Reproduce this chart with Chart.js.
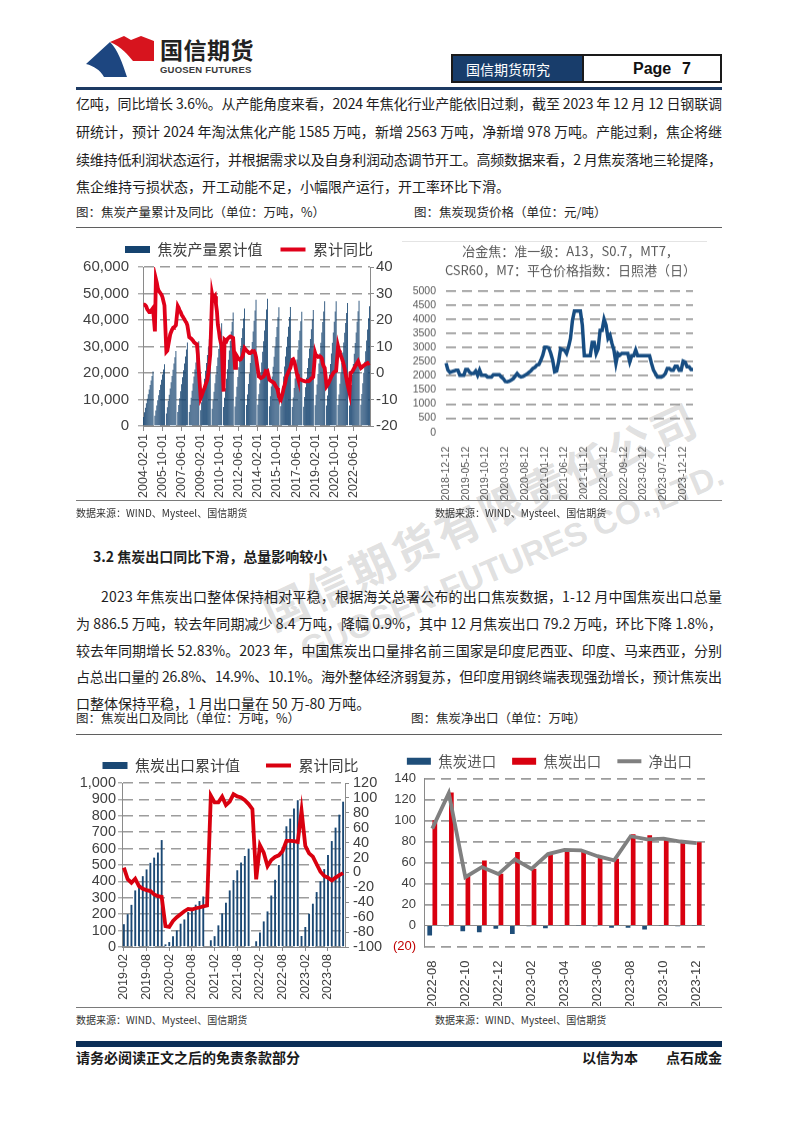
<!DOCTYPE html>
<html lang="zh-CN">
<head>
<meta charset="utf-8">
<title>焦炭</title>
<script src="https://cdn.jsdelivr.net/npm/chart.js@4.4.1/dist/chart.umd.min.js"></script>
<style>
  html, body { margin:0; padding:0; background:#fff; }
  body { width:802px; height:1133px; position:relative; overflow:hidden; font-family:"Noto Sans CJK SC","Noto Sans",sans-serif; color:#1e1e1e; }
  .a { position:absolute; white-space:nowrap; }
  .txt { font-size:14px; line-height:20px; height:20px; }
  .cap { font-size:12.5px; color:#262626; line-height:16px; }
  .src { font-size:10px; color:#333; line-height:14px; }
  .rule { position:absolute; left:76px; width:646px; }
  .wrap { position:absolute; }
  .wrap canvas { display:block; }
  .wm { position:absolute; white-space:nowrap; color:rgba(150,150,150,0.3); font-weight:700; pointer-events:none; }
</style>
</head>
<body>

<!-- watermark (behind) -->
<div class="wm" style="left:480px;top:514px;font-size:44px;letter-spacing:3.5px;transform:translate(-50%,-50%) rotate(-25deg);">国信期货有限责任公司</div>
<div class="wm" style="left:512px;top:562px;font-size:33px;font-family:'Liberation Sans',Arial,sans-serif;transform:translate(-50%,-50%) rotate(-23deg);">GUOSEN FUTURES CO.,LTD.</div>

<!-- header -->
<svg class="a" style="left:84px;top:34px;" width="72" height="46" viewBox="84 34 72 46">
  <path d="M86,64 L110,42 C118,50 122,62 127,77 L104,77 C100,70 94,66 86,64 Z" fill="#1d4680"/>
  <path d="M110,42 L124,36 L131,40 L141,36 L154,41 L154,61 L133,61 C128,55 122,47 110,42 Z" fill="#d7141e"/>
</svg>
<div class="a" style="left:160px;top:35px;font-size:23px;font-weight:700;color:#222;letter-spacing:0.5px;line-height:28px;">国信期货</div>
<div class="a" style="left:160px;top:64px;font-size:9.5px;font-weight:700;color:#3a3a3a;line-height:12px;font-family:'Liberation Sans',Arial,sans-serif;letter-spacing:0.2px;">GUOSEN FUTURES</div>
<div class="a" style="left:451px;top:54px;width:271px;height:29px;border:2px solid #1a1a1a;box-sizing:border-box;background:#fff;"></div>
<div class="a" style="left:451px;top:54px;width:133px;height:29px;background:#183d6b;border:2px solid #1a1a1a;box-sizing:border-box;"></div>
<div class="a" style="left:466px;top:59px;font-size:14px;line-height:20px;color:#fff;">国信期货研究</div>
<div class="a" style="left:633px;top:58px;font-size:16px;line-height:22px;font-weight:700;color:#111;font-family:'Liberation Sans Narrow','Liberation Sans',Arial,sans-serif;">Page</div>
<div class="a" style="left:682px;top:58px;font-size:16px;line-height:22px;font-weight:700;color:#111;font-family:'Liberation Sans Narrow','Liberation Sans',Arial,sans-serif;">7</div>
<div class="rule" style="top:87px;height:2.5px;background:#1c3a63;"></div>

<!-- paragraph 1 -->
<div class="a txt j" data-w="646" style="left:76px;top:93px;">亿吨，同比增长 3.6%。从产能角度来看，2024 年焦化行业产能依旧过剩，截至 2023 年 12 月 12 日钢联调</div>
<div class="a txt j" data-w="646" style="left:76px;top:121px;">研统计，预计 2024 年淘汰焦化产能 1585 万吨，新增 2563 万吨，净新增 978 万吨。产能过剩，焦企将继</div>
<div class="a txt j" data-w="646" style="left:76px;top:148.5px;">续维持低利润状态运行，并根据需求以及自身利润动态调节开工。高频数据来看，2 月焦炭落地三轮提降，</div>
<div class="a txt" style="left:76px;top:176px;">焦企维持亏损状态，开工动能不足，小幅限产运行，开工率环比下滑。</div>

<div class="a cap" style="left:76px;top:204px;">图：焦炭产量累计及同比（单位：万吨，%）</div>
<div class="a cap" style="left:414px;top:204px;">图：焦炭现货价格（单位：元/吨）</div>
<div class="rule" style="top:226.5px;height:1.3px;background:#5f5f5f;"></div>
<div class="a" style="left:402px;top:241px;width:305px;height:1px;background:#e4e4e4;"></div>

<div class="wrap" id="w1" style="left:81px;top:232px;width:336px;height:268px;"><canvas id="c1"></canvas></div>
<div class="wrap" id="w2" style="left:410px;top:240px;width:321px;height:258px;"><canvas id="c2"></canvas></div>

<div class="rule" style="top:500px;height:1.2px;background:#7a7a7a;"></div>
<div class="a src" style="left:76px;top:506px;">数据来源：WIND、Mysteel、国信期货</div>
<div class="a src" style="left:435px;top:506px;">数据来源：WIND、Mysteel、国信期货</div>

<!-- section 3.2 -->
<div class="a txt" style="left:93px;top:546px;font-weight:700;">3.2 焦炭出口同比下滑，总量影响较小</div>
<div class="a txt j" data-w="621" style="left:101px;top:586px;">2023 年焦炭出口整体保持相对平稳，根据海关总署公布的出口焦炭数据，1-12 月中国焦炭出口总量</div>
<div class="a txt j" data-w="646" style="left:76px;top:612.5px;">为 886.5 万吨，较去年同期减少 8.4 万吨，降幅 0.9%，其中 12 月焦炭出口 79.2 万吨，环比下降 1.8%，</div>
<div class="a txt j" data-w="646" style="left:76px;top:639.5px;">较去年同期增长 52.83%。2023 年，中国焦炭出口量排名前三国家是印度尼西亚、印度、马来西亚，分别</div>
<div class="a txt j" data-w="646" style="left:76px;top:666px;">占总出口量的 26.8%、14.9%、10.1%。海外整体经济弱复苏，但印度用钢终端表现强劲增长，预计焦炭出</div>
<div class="a txt" style="left:76px;top:693px;">口整体保持平稳，1 月出口量在 50 万-80 万吨。</div>

<div class="a cap" style="left:76px;top:710px;">图：焦炭出口及同比（单位：万吨，%）</div>
<div class="a cap" style="left:411px;top:710px;">图：焦炭净出口（单位：万吨）</div>
<div class="rule" style="top:733.5px;height:1.3px;background:#5f5f5f;"></div>

<div class="wrap" id="w3" style="left:72px;top:740px;width:317px;height:266px;"><canvas id="c3"></canvas></div>
<div class="wrap" id="w4" style="left:364px;top:740px;width:371px;height:266px;"><canvas id="c4"></canvas></div>

<div class="rule" style="top:1007px;height:1.2px;background:#7a7a7a;"></div>
<div class="a src" style="left:76px;top:1013px;">数据来源：WIND、Mysteel、国信期货</div>
<div class="a src" style="left:435px;top:1013px;">数据来源：WIND、Mysteel、国信期货</div>

<!-- footer -->
<div class="rule" style="top:1041px;height:6px;background:#0c2f57;"></div>
<div class="a" style="left:76px;top:1049px;font-size:14px;line-height:16px;font-weight:700;color:#1a1a1a;">请务必阅读正文之后的免责条款部分</div>
<div class="a" style="left:582px;top:1049px;font-size:14px;line-height:16px;font-weight:700;color:#1a1a1a;">以信为本</div>
<div class="a" style="left:666px;top:1049px;font-size:14px;line-height:16px;font-weight:700;color:#1a1a1a;">点石成金</div>

<script>
// ---------------- data ----------------
// Chart 1: coke output, cumulative (10k t) and cumulative YoY (%), monthly 2004-02 .. 2023-11 (January not published)
const prodStart = '2004-02', prodEnd = '2023-11';
const prodTickLabels = ['2004-02-01','2005-10-01','2007-06-01','2009-02-01','2010-10-01','2012-06-01','2014-02-01','2015-10-01','2017-06-01','2019-02-01','2020-10-01','2022-06-01'];
const prodCum = [
  3430, 5150, 6870, 8580, 10300, 12020, 13730, 15450, 17170, 18880, 20600,
  null, 3880, 5830, 7770, 9710, 11650, 13590, 15530, 17480, 19420, 21360, 23300,
  null, 4720, 7080, 9430, 11790, 14150, 16510, 18870, 21230, 23580, 25940, 28300,
  null, 5250, 7880, 10500, 13130, 15750, 18380, 21000, 23630, 26250, 28880, 31500,
  null, 5330, 8000, 10670, 13330, 16000, 18670, 21330, 24000, 26670, 29330, 32000,
  null, 5950, 8930, 11900, 14880, 17850, 20830, 23800, 26780, 29750, 32730, 35700,
  null, 6470, 9700, 12930, 16170, 19400, 22630, 25870, 29100, 32330, 35570, 38800,
  null, 7130, 10700, 14270, 17830, 21400, 24970, 28530, 32100, 35670, 39230, 42800,
  null, 7380, 11080, 14770, 18460, 22150, 25840, 29530, 33230, 36920, 40610, 44300,
  null, 7930, 11900, 15870, 19830, 23800, 27770, 31730, 35700, 39670, 43630, 47600,
  null, 8000, 12000, 16000, 20000, 24000, 28000, 32000, 36000, 40000, 44000, 48000,
  null, 7470, 11200, 14930, 18670, 22400, 26130, 29870, 33600, 37330, 41070, 44800,
  null, 7480, 11230, 14970, 18710, 22450, 26190, 29930, 33680, 37420, 41160, 44900,
  null, 7180, 10780, 14370, 17960, 21550, 25140, 28730, 32330, 35920, 39510, 43100,
  null, 7300, 10950, 14600, 18250, 21900, 25550, 29200, 32850, 36500, 40150, 43800,
  null, 7850, 11780, 15700, 19630, 23550, 27480, 31400, 35330, 39250, 43180, 47100,
  null, 7700, 11500, 15400, 19400, 23400, 27400, 31400, 35300, 39300, 43200, 47100,
  null, 7900, 11900, 15900, 19900, 23800, 27700, 31500, 35200, 38900, 42600, 46400,
  null, 7700, 11600, 15500, 19400, 23400, 27300, 31300, 35300, 39300, 43300, 47300,
  null, 8000, 12100, 16100, 20100, 24200, 28200, 32300, 36400, 40700, 45200
];
const prodYoY = [
  25.8, 25.8, 25.5, 25.0, 24.0, 23.5, 23.0, 23.0, 23.5, 24.0, 24.5,
  null, 15.7, 35.5, 34.0, 32.0, 31.0, 30.5, 30.0, 29.5, 28.5, 27.0, 25.5,
  null, 8.0, 8.4, 10.5, 12.5, 14.5, 15.5, 16.4, 17.0, 17.3, 17.6, 18.0,
  null, 25.2, 24.5, 23.5, 23.0, 22.0, 21.4, 20.8, 20.2, 19.5, 19.0, 18.0,
  null, 13.5, 13.2, 13.0, 12.6, 12.2, 11.6, 11.3, 11.0, 10.9, 7.0, 1.0,
  null, -9.4, -8.5, -7.5, -6.5, -5.7, -4.5, -3.5, -2.5, 0.0, 3.1, 7.0,
  null, 29.6, 27.7, 28.5, 29.0, 26.0, 23.3, 18.2, 16.0, 13.2, 11.5, 10.7,
  null, -7.0, 12.6, 12.3, 12.0, 12.8, 13.2, 13.5, 13.8, 13.6, 13.4, 13.2,
  null, 1.9, 6.9, 6.3, 5.7, 5.3, 5.0, 5.2, 5.7, 6.5, 8.0, 9.4,
  null, 8.5, 8.2, 7.8, 7.5, 7.5, 7.8, 8.2, 8.0, 8.2, 7.5, 6.0,
  null, 1.0, -1.3, -1.5, -1.9, -1.8, -1.5, -1.3, -0.5, 0.6, 0.3, 0.6,
  null, -2.5, -2.8, -3.1, -3.3, -3.5, -3.8, -4.5, -5.2, -5.7, -7.0, -9.0,
  null, -10.0, -8.8, -7.5, -5.7, -4.5, -3.0, -1.3, -0.5, 0.5, 1.2, 1.9,
  null, 5.0, 5.2, 4.4, 3.0, 1.2, -0.5, -1.9, -2.2, -2.4, -2.5, -2.7,
  null, -3.0, -3.1, -3.2, -3.1, -3.0, -3.1, -2.9, -2.5, -2.0, -1.9, -1.5,
  null, 7.5, 6.3, 6.5, 6.3, 6.2, 6.3, 6.0, 5.5, 3.5, 2.5, 1.9,
  null, -5.0, -4.5, -3.8, -3.0, -2.2, -1.3, -0.8, 0.0, 0.4, 0.6, 0.8,
  null, 10.0, 8.5, 7.5, 6.5, 5.5, 4.4, 3.0, 1.5, -0.6, -2.5, -4.4,
  null, -7.5, 0.0, 0.2, 0.6, 1.2, 1.9, 2.5, 3.1, 3.8, 4.4, 3.5,
  null, 1.9, 2.2, 2.5, 2.8, 3.1, 3.3, 3.5, 3.8, 3.6, 3.8
];

// Chart 2: coke price index (yuan/t), half-monthly 2018-12 .. 2024-02
const priceStart = '2018-12', priceEnd = '2024-02';
const priceTitle = ['冶金焦：准一级：A13，S0.7，MT7，', 'CSR60，M7：平仓价格指数：日照港（日）'];
const priceTickLabels = ['2018-12-12','2019-05-12','2019-10-12','2020-03-12','2020-08-12','2021-01-12','2021-06-12','2021-11-12','2022-04-12','2022-09-12','2023-02-12','2023-07-12','2023-12-12'];
const priceValues = [
  2450, 2200, 2120, 2150, 2170, 2200, 2200, 2020, 2020, 2020,
  2220, 2220, 2120, 2080, 2080, 2170, 2020, 2200, 2020, 2020,
  2020, 1960, 1960, 1960, 2040, 2040, 2040, 2040, 1960, 1900,
  1800, 1790, 1810, 1850, 1900, 1990, 2080, 2000, 1960, 1980,
  2020, 2060, 2120, 2180, 2260, 2300, 2380, 2400, 2550, 2730,
  3010, 3010, 2990, 2800, 2550, 2140, 2170, 2500, 2960, 2930,
  2900, 2790, 3020, 3320, 3960, 4290, 4290, 4290, 4290, 3790,
  2710, 2710, 2710, 2710, 3180, 3180, 2790, 2960, 3610, 3610,
  4000, 3790, 3320, 3430, 3140, 2910, 2440, 2790, 2730, 2790,
  2790, 2790, 2790, 2490, 2710, 2710, 2910, 2710, 2710, 2710,
  2710, 2710, 2710, 2710, 2440, 2200, 2080, 1960, 1960, 1960,
  2000, 2080, 2260, 2260, 2200, 2200, 2340, 2340, 2200, 2200,
  2520, 2490, 2320, 2320, 2220, 2220
];

// Chart 3: coke exports, cumulative (10k t) and cumulative YoY (%), 2019-02 .. 2023-12
const exportStart = '2019-02', exportEnd = '2023-12';
const exportTickLabels = ['2019-02','2019-08','2020-02','2020-08','2021-02','2021-08','2022-02','2022-08','2023-02','2023-08'];
const exportCum = [
  139, 200, 257, 345, 372, 432, 473, 513, 545, 576, 652,
  16, 30, 65, 101, 142, 168, 213, 239, 258, 280, 308, null,
  41, 66, 132, 205, 270, 345, 408, 468, 515, 555, 600, null,
  35, 88, 156, 217, 314, 410, 500, 609, 736, 783, 845, 895,
  67, 122, 203, 264, 335, 400, 475, 561, 646, 728, 807, 886
];
const exportYoY = [
  6.4, -9, -13.8, -8.4, -18.3, -21.9, -23.7, -25, -29.5, -31.8, -32.7,
  -72, -73, -65, -60, -56, -52, -49, -49.7, -48, -47, -45.5, -44.3,
  103, 94, 94, 101.6, 90.4, 95, 105, 102, 100.7, 97, 91.7, 85,
  -9.3, 36.5, 26.6, 8.6, 16.7, 20.8, 23, 28.8, 42.3, 42.3, 42, 41,
  82.7, 35.6, 25.7, 21.2, 11, 1, -4.8, -7, -10.7, -7, -3.5, -0.9
];

// Chart 4: coke net exports (10k t), monthly
const netMonths = ['2022-08','2022-09','2022-10','2022-11','2022-12','2023-01','2023-02','2023-03','2023-04','2023-05','2023-06','2023-07','2023-08','2023-09','2023-10','2023-11','2023-12'];
const importVals = [-9.5, -0.8, -5.4, -6.5, -3, -8, -0.8, -2.5, -0.3, -0.3, -0.8, -2.2, -2.2, -3.8, -0.3, -0.8, -0.3];
const exportVals = [100.2, 126.6, 47.7, 62, 49.3, 70, 54, 70, 71.6, 70, 65.2, 63.6, 86.9, 85.9, 82.7, 79.5, 79.2];
const netVals = [92.3, 126, 46, 55.7, 49, 63, 54, 68, 72, 71.6, 66, 62, 85, 82, 82.7, 80, 78.5];

// ---------------- helpers ----------------
function monthRange(start, end, suffixes) {
  const out = [];
  let [y, m] = start.split('-').map(Number);
  const [ey, em] = end.split('-').map(Number);
  while (y < ey || (y === ey && m <= em)) {
    const base = y + '-' + String(m).padStart(2, '0');
    (suffixes || ['']).forEach(s => out.push(base + s));
    m++; if (m > 12) { m = 1; y++; }
  }
  return out;
}
const prodMonths = monthRange(prodStart, prodEnd, ['-01']);
const priceDates = monthRange(priceStart, priceEnd, ['-12', '-27']);
const exportMonths = monthRange(exportStart, exportEnd);

const CJK = "'Noto Sans CJK SC', 'Noto Sans', sans-serif";
const NUM = "'Liberation Sans', Arial, sans-serif";
Chart.defaults.font.family = NUM;
Chart.defaults.animation = false;
const AXIS = '#8a8a8a', GRID = '#9c9c9c', DASH = [10, 6];

function legendOpts(size, color, pad, boxW) {
  return {
    display: true, position: 'top', onClick: null,
    labels: {
      color: color, padding: pad, boxWidth: boxW || 25, boxHeight: 7, usePointStyle: true, pointStyleWidth: boxW || 25,
      font: { size: size, family: CJK },
      sort: (a, b) => a.datasetIndex - b.datasetIndex,
      generateLabels(chart) {
        const items = Chart.defaults.plugins.legend.labels.generateLabels(chart);
        items.forEach(it => {
          const ds = chart.data.datasets[it.datasetIndex];
          if (ds.type === 'line') { it.pointStyle = 'line'; it.lineWidth = 4; it.strokeStyle = ds.borderColor; it.fillStyle = ds.borderColor; }
          else { it.pointStyle = 'rect'; it.lineWidth = 0; it.fillStyle = ds.backgroundColor; it.strokeStyle = ds.backgroundColor; }
        });
        return items;
      }
    }
  };
}
function keepTicks(labels, list) {
  return s => { s.ticks = s.ticks.filter(t => list.includes(labels[t.value])); };
}
function fitChart(chart, wrap, t) {
  for (let k = 0; k < 4; k++) {
    const a = chart.chartArea;
    const dw = (t.r - t.l) - (a.right - a.left);
    const dh = (t.b - t.t) - (a.bottom - a.top);
    if (Math.abs(dw) < 0.3 && Math.abs(dh) < 0.3) break;
    const w = wrap.clientWidth + dw, h = wrap.clientHeight + dh;
    wrap.style.width = w + 'px'; wrap.style.height = h + 'px';
    chart.resize(w, h);
  }
  const a = chart.chartArea;
  wrap.style.left = (t.l - a.left) + 'px';
  wrap.style.top = (t.t - a.top) + 'px';
}
function justify() {
  document.querySelectorAll('.j').forEach(el => {
    el.style.letterSpacing = '0px';
    const w = el.getBoundingClientRect().width;
    const n = Array.from(el.textContent).length;
    const target = Number(el.dataset.w);
    if (n > 1) el.style.letterSpacing = ((target - w) / (n - 1)) + 'px';
  });
}
justify();

const baseOpts = { responsive: true, maintainAspectRatio: false, animation: false, events: [] };

// ---------------- chart 1 ----------------
const chart1 = new Chart(document.getElementById('c1'), {
  data: {
    labels: prodMonths,
    datasets: [
      { type: 'bar', label: '焦炭产量累计值', data: prodCum, yAxisID: 'y', backgroundColor: '#15436f', borderWidth: 0, barPercentage: 1.0, categoryPercentage: 0.88, order: 2 },
      { type: 'line', label: '累计同比', data: prodYoY, yAxisID: 'y1', borderColor: '#e0001a', backgroundColor: '#e0001a', borderWidth: 3.8, pointRadius: 0, spanGaps: true, tension: 0, order: 1 }
    ]
  },
  options: Object.assign({}, baseOpts, {
    layout: { padding: 0 },
    plugins: { legend: legendOpts(15, '#404040', 18), tooltip: { enabled: false } },
    scales: {
      x: {
        type: 'category', offset: true,
        grid: { display: true, drawOnChartArea: false, drawTicks: true, tickLength: 5, tickColor: AXIS, offset: false },
        border: { display: true, color: AXIS, width: 1 },
        ticks: { autoSkip: false, maxRotation: 90, minRotation: 90, padding: 3, color: '#404040', font: { size: 12.5 } },
        afterBuildTicks: keepTicks(prodMonths, prodTickLabels),
        afterFit: s => { s.height = 72; }
      },
      y: {
        position: 'left', min: 0, max: 60000,
        ticks: { autoSkip: false, stepSize: 10000, padding: 9, color: '#404040', font: { size: 15 }, callback: v => v.toLocaleString('en-US') },
        grid: { color: GRID, lineWidth: 1.6, drawTicks: true, tickLength: 5, tickColor: AXIS, tickWidth: 1, tickBorderDash: [] },
        border: { display: true, color: AXIS, width: 1, dash: DASH },
        afterFit: s => { s.width = 62; }
      },
      y1: {
        position: 'right', min: -20, max: 40,
        ticks: { autoSkip: false, stepSize: 10, padding: 2, color: '#404040', font: { size: 15 } },
        grid: { drawOnChartArea: false, drawTicks: true, tickLength: 4, tickColor: AXIS },
        border: { display: true, color: AXIS, width: 1 },
        afterFit: s => { s.width = 47; }
      }
    }
  })
});
fitChart(chart1, document.getElementById('w1'), { l: 143, t: 267, r: 370, b: 426 });

// ---------------- chart 2 ----------------
const chart2 = new Chart(document.getElementById('c2'), {
  type: 'line',
  data: {
    labels: priceDates,
    datasets: [{ type: 'line', label: priceTitle.join(''), data: priceValues, borderColor: '#174d82', borderWidth: 3.5, pointRadius: 0, tension: 0, fill: false, yAxisID: 'y' }]
  },
  options: Object.assign({}, baseOpts, {
    layout: { padding: 0 },
    plugins: {
      legend: { display: false }, tooltip: { enabled: false },
      title: { display: true, text: priceTitle, color: '#595959', font: { size: 13, family: CJK, lineHeight: 1.45, weight: 'normal' }, padding: { top: 0, bottom: 11 } }
    },
    scales: {
      x: {
        type: 'category', offset: false,
        grid: { display: false }, border: { display: false },
        ticks: { autoSkip: false, maxRotation: 90, minRotation: 90, padding: 6, color: '#595959', font: { size: 10.5 } },
        afterBuildTicks: keepTicks(priceDates, priceTickLabels),
        afterFit: s => { s.height = 80; }
      },
      y: {
        position: 'left', min: 0, max: 5000,
        ticks: { autoSkip: false, stepSize: 500, padding: 10, color: '#595959', font: { size: 10.5 }, callback: v => String(v) },
        grid: { color: c => (c.tick && c.tick.value === 0) ? 'rgba(0,0,0,0)' : GRID, lineWidth: 1.8, drawTicks: false },
        border: { display: false, dash: DASH },
        afterFit: s => { s.width = 36; }
      },
      yR: {
        position: 'right', display: true,
        ticks: { display: false }, grid: { display: false }, border: { display: false },
        afterFit: s => { s.width = 38; }
      }
    }
  })
});
fitChart(chart2, document.getElementById('w2'), { l: 446, t: 291, r: 693, b: 432 });

// ---------------- chart 3 ----------------
const chart3 = new Chart(document.getElementById('c3'), {
  data: {
    labels: exportMonths,
    datasets: [
      { type: 'bar', label: '焦炭出口累计值', data: exportCum, yAxisID: 'y', backgroundColor: '#1a4874', borderWidth: 0, barPercentage: 0.5, categoryPercentage: 1.0, order: 2 },
      { type: 'line', label: '累计同比', data: exportYoY, yAxisID: 'y1', borderColor: '#d9000f', backgroundColor: '#d9000f', borderWidth: 3.8, pointRadius: 0, tension: 0, order: 1 }
    ]
  },
  options: Object.assign({}, baseOpts, {
    layout: { padding: 0 },
    plugins: { legend: legendOpts(15, '#404040', 26), tooltip: { enabled: false } },
    scales: {
      x: {
        type: 'category', offset: true,
        grid: { display: true, drawOnChartArea: false, drawTicks: true, tickLength: 4, tickColor: AXIS, offset: false },
        border: { display: true, color: AXIS, width: 1 },
        ticks: { autoSkip: false, maxRotation: 90, minRotation: 90, padding: 3, color: '#404040', font: { size: 12.5 } },
        afterBuildTicks: keepTicks(exportMonths, exportTickLabels),
        afterFit: s => { s.height = 58; }
      },
      y: {
        position: 'left', min: 0, max: 1000,
        ticks: { autoSkip: false, stepSize: 100, padding: 2, color: '#404040', font: { size: 14.5 }, callback: v => v.toLocaleString('en-US') },
        grid: { color: GRID, lineWidth: 1.6, drawTicks: true, tickLength: 4, tickColor: AXIS, tickWidth: 1, tickBorderDash: [] },
        border: { display: true, color: AXIS, width: 1, dash: DASH },
        afterFit: s => { s.width = 50; }
      },
      y1: {
        position: 'right', min: -100, max: 120,
        ticks: { autoSkip: false, stepSize: 20, padding: 4, color: '#404040', font: { size: 14.5 } },
        grid: { drawOnChartArea: false, drawTicks: true, tickLength: 4, tickColor: AXIS },
        border: { display: true, color: AXIS, width: 1 },
        afterFit: s => { s.width = 44; }
      }
    }
  })
});
fitChart(chart3, document.getElementById('w3'), { l: 122, t: 783, r: 345, b: 947 });

// ---------------- chart 4 ----------------
const chart4 = new Chart(document.getElementById('c4'), {
  data: {
    labels: netMonths,
    datasets: [
      { type: 'bar', label: '焦炭进口', data: importVals, backgroundColor: '#1f4e79', borderWidth: 0, categoryPercentage: 0.62, barPercentage: 0.92, order: 2 },
      { type: 'bar', label: '焦炭出口', data: exportVals, backgroundColor: '#d9000f', borderWidth: 0, categoryPercentage: 0.62, barPercentage: 0.92, order: 2 },
      { type: 'line', label: '净出口', data: netVals, borderColor: '#808080', backgroundColor: '#808080', borderWidth: 3.8, pointRadius: 0, tension: 0, order: 1 }
    ]
  },
  options: Object.assign({}, baseOpts, {
    layout: { padding: 0 },
    plugins: { legend: legendOpts(14.5, '#595959', 16, 24), tooltip: { enabled: false } },
    scales: {
      x: {
        type: 'category', offset: true,
        grid: { display: false }, border: { display: false },
        ticks: { autoSkip: false, maxRotation: 90, minRotation: 90, padding: 6, color: '#404040', font: { size: 13 } },
        afterBuildTicks: s => { s.ticks = s.ticks.filter(t => t.value % 2 === 0); },
        afterFit: s => { s.height = 60; }
      },
      y: {
        position: 'left', min: -20, max: 140,
        ticks: {
          autoSkip: false, stepSize: 20, padding: 8, font: { size: 13 },
          color: c => (c.tick && c.tick.value < 0) ? '#c00000' : '#404040',
          callback: v => v < 0 ? '(' + Math.abs(v) + ')' : String(v)
        },
        grid: {
          color: c => (c.tick && c.tick.value === 0) ? '#8c8c8c' : GRID,
          lineWidth: c => (c.tick && c.tick.value === 0) ? 1 : 1.8,
          drawTicks: false
        },
        border: { display: true, color: AXIS, width: 1, dash: c => (c.tick && c.tick.value === 0) ? [] : DASH },
        afterFit: s => { s.width = 60; }
      },
      yR: {
        position: 'right', display: true,
        ticks: { display: false }, grid: { display: false }, border: { display: false },
        afterFit: s => { s.width = 30; }
      }
    }
  })
});
fitChart(chart4, document.getElementById('w4'), { l: 424, t: 778, r: 705, b: 946 });
</script>
</body>
</html>
